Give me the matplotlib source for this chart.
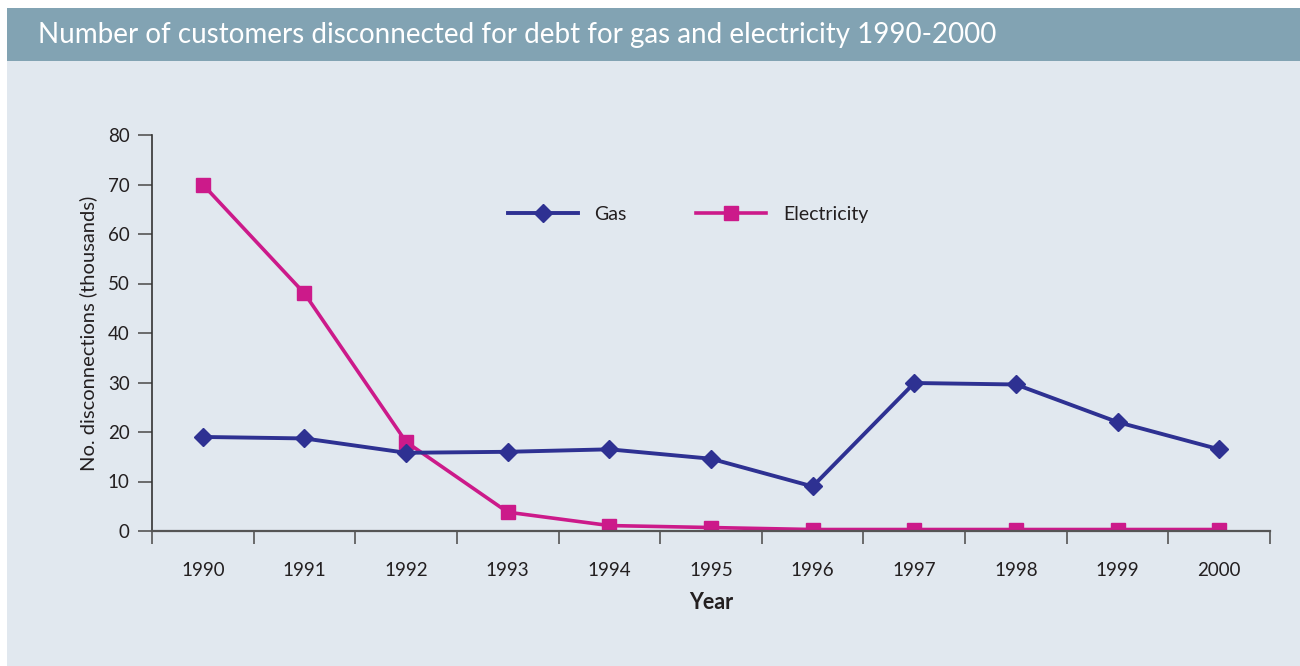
import matplotlib.pyplot as plt
from matplotlib.patches import Rectangle

years = ["1990", "1991", "1992", "1993", "1994", "1995", "1996", "1997", "1998", "1999", "2000"]
gas = [19.0, 18.7, 15.8, 16.0, 16.5, 14.6, 9.0, 29.9, 29.6, 22.0, 16.5]
electricity = [70.0, 48.0, 18.0, 3.8, 1.1, 0.7, 0.3, 0.3, 0.3, 0.3, 0.3]

GAS_COL = "#2e3192"
ELEC_COL = "#cc1a8a"
TEXT_COL = "#231f20"

plt.rcParams['font.family'] = ['Lato', 'DejaVu Sans']

fig = plt.figure(figsize=(13, 6.66), dpi=100)
fig.patch.set_facecolor("white")

# background panel and title bar
fig.patches.append(Rectangle((7 / 1300, 0), 1, 658 / 666, transform=fig.transFigure,
                             facecolor="#e1e8ef", edgecolor="none", zorder=-10))
fig.patches.append(Rectangle((7 / 1300, 605 / 666), 1, 53 / 666, transform=fig.transFigure,
                             facecolor="#82a3b3", edgecolor="none", zorder=-9))
fig.text(38 / 1300, 1 - 35 / 666, "Number of customers disconnected for debt for gas and electricity 1990-2000",
         color="white", fontsize=20, va="center", ha="left")

ax = fig.add_axes([152 / 1300, 135 / 666, 1118 / 1300, 396 / 666])
ax.set_facecolor("none")

x = list(range(len(years)))
ax.plot(x, gas, color=GAS_COL, lw=2.8, marker="D", markersize=9, label="Gas", zorder=3)
ax.plot(x, electricity, color=ELEC_COL, lw=2.6, marker="s", markersize=10, label="Electricity", zorder=2)

ax.set_xlim(-0.5, len(years) - 0.5)
ax.set_ylim(0, 80)
ax.set_yticks(range(0, 81, 10))
ax.set_xticks(x)
ax.set_xticklabels(years)
ax.set_xticks([i + 0.5 for i in range(-1, len(years))], minor=True)
ax.tick_params(axis="x", which="major", length=0, pad=22, labelsize=13.5, labelcolor=TEXT_COL)
ax.tick_params(axis="x", which="minor", length=9, width=1.2, color="#555555", direction="out")
ax.tick_params(axis="y", length=10, width=1.2, color="#555555", labelsize=13.5, labelcolor=TEXT_COL, pad=6)

for s in ["top", "right"]:
    ax.spines[s].set_visible(False)
ax.spines["left"].set_color("#333333")
ax.spines["bottom"].set_color("#555555")
ax.spines["left"].set_linewidth(1.2)
ax.spines["bottom"].set_linewidth(1.6)

ax.set_ylabel("No. disconnections (thousands)", fontsize=14.5, color=TEXT_COL, labelpad=8)
ax.set_xlabel("Year", fontsize=15.5, fontweight="bold", color=TEXT_COL, labelpad=10)

ax.legend(loc="center left", bbox_to_anchor=(0.318, 0.80), ncol=2, frameon=False,
          fontsize=14, handlelength=3.6, handletextpad=0.85, columnspacing=3.6,
          borderpad=0, borderaxespad=0, labelcolor=TEXT_COL)

fig.savefig("out.png", dpi=100)
